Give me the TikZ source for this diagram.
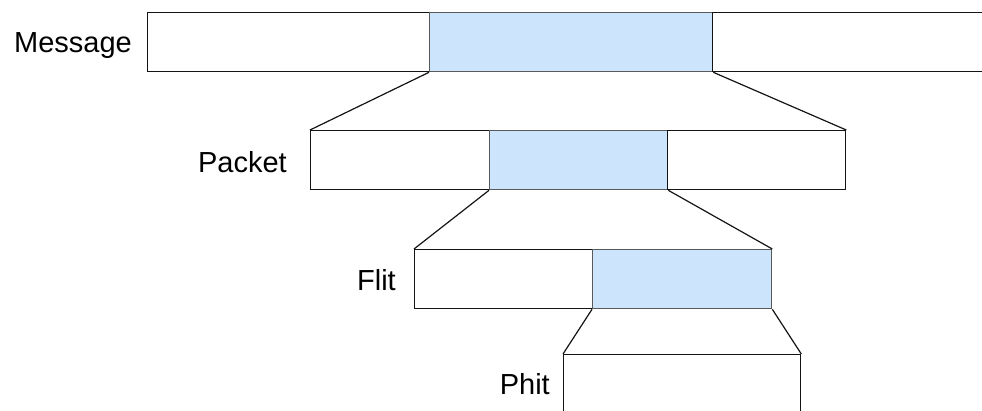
\documentclass[tikz,border=0pt]{standalone}
\usepackage{fontspec}
\setmainfont{Liberation Sans}
\usetikzlibrary{positioning}
\definecolor{pkedge}{RGB}{20,20,20}
\definecolor{pksel}{RGB}{204,228,252}
\tikzset{
  seg/.style={
    draw=pkedge, line width=1.3pt, fill=white, inner sep=0pt,
    minimum height=59pt, anchor=north west
  },
  sel/.style={seg, fill=pksel, draw=black!65},
  lvl/.style={font=\fontsize{29}{32}\selectfont, anchor=base east, inner sep=0pt},
  zoom/.style={draw=pkedge, line width=1.2pt}
}

\begin{document}
\begin{tikzpicture}[x=1pt, y=-1pt]
  \useasboundingbox (0,0) rectangle (982,410);

  % message
  \node[seg, minimum width=282pt] (msgA) at (147,12) {};
  \node[sel, minimum width=283pt] (msgB) at (429,12) {};
  \node[seg, minimum width=300pt] (msgC) at (712,12) {};
  \node[lvl] (msgT) at (132,52) {Message};

  % packet
  \node[seg, minimum width=179pt] (pktA) at (310,130) {};
  \node[sel, minimum width=178pt] (pktB) at (489,130) {};
  \node[seg, minimum width=178pt] (pktC) at (667,130) {};
  \node[lvl] (pktT) at (287,172) {Packet};

  % flit
  \node[seg, minimum width=178pt] (fltA) at (414,249) {};
  \node[sel, minimum width=179pt] (fltB) at (592,249) {};
  \node[lvl] (fltT) at (396,290) {Flit};

  % phit
  \node[seg, minimum width=237pt, minimum height=90pt] (phtA) at (563,354) {};
  \node[lvl] (phtT) at (550,394) {Phit};

  % zoom lines
  \draw[zoom] (msgB.south west) -- (pktA.north west);
  \draw[zoom] (msgB.south east) -- (pktC.north east);
  \draw[zoom] (pktB.south west) -- (fltA.north west);
  \draw[zoom] (pktB.south east) -- (fltB.north east);
  \draw[zoom] (fltB.south west) -- (phtA.north west);
  \draw[zoom] (fltB.south east) -- (phtA.north east);
\end{tikzpicture}
\end{document}
